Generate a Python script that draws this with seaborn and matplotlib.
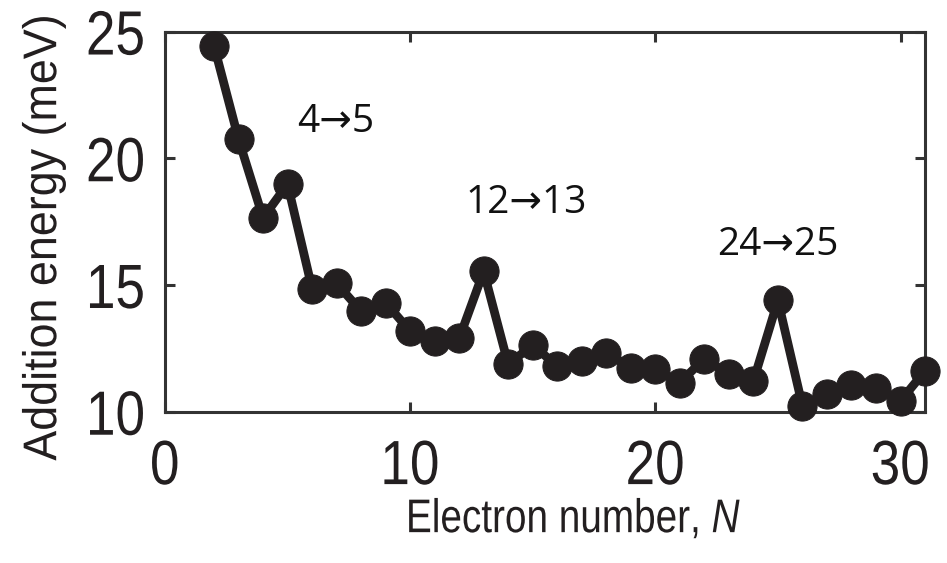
import matplotlib
matplotlib.use("Agg")
import matplotlib.pyplot as plt
import seaborn as sns
import pandas as pd
from matplotlib.patheffects import AbstractPathEffect
from matplotlib.transforms import Affine2D

electron_number = list(range(2, 32))
addition_energy = [24.44, 20.76, 17.65, 18.98, 14.86, 15.06, 13.97, 14.30, 13.18, 12.79,
                   12.89, 15.54, 11.87, 12.63, 11.80, 12.00, 12.33, 11.74, 11.67, 11.15,
                   12.09, 11.48, 11.21, 14.39, 10.23, 10.69, 11.06, 10.95, 10.43, 11.61]
annot_text = ["4\u21925", "12\u219213", "24\u219225"]
annot_x = [6.98, 14.74, 24.99]
annot_y = [21.45, 18.24, 16.59]
x_ticks = [0, 10, 20, 30]
y_ticks = [10, 15, 20, 25]


class Narrow(AbstractPathEffect):
    """Horizontally condense glyph outlines (emulates a narrow sans face)."""
    def __init__(self, sx=0.85, anchor="center"):
        super().__init__()
        self.sx = sx
        self.anchor = anchor

    def draw_path(self, renderer, gc, tpath, affine, rgbFace=None):
        v = tpath.vertices
        if len(v):
            xmin, xmax = v[:, 0].min(), v[:, 0].max()
        else:
            xmin = xmax = 0.0
        if self.anchor == "right":
            c = xmax
        elif self.anchor == "left":
            c = xmin
        else:
            c = 0.5 * (xmin + xmax)
        t = Affine2D().translate(-c, 0).scale(self.sx, 1).translate(c, 0)
        renderer.draw_path(gc, tpath, t + affine, rgbFace)


sns.set_style("ticks")
plt.rcParams['font.family'] = ['Liberation Sans', 'DejaVu Sans']
plt.rcParams['mathtext.fontset'] = 'custom'
plt.rcParams['mathtext.it'] = 'Liberation Sans:italic'
plt.rcParams['mathtext.rm'] = 'Liberation Sans'

df = pd.DataFrame({"N": electron_number, "E": addition_energy})
ink = "#231f20"

fig = plt.figure(figsize=(9.47, 5.63), dpi=100)
ax = fig.add_axes([0.1742, 0.2687, 0.8026, 0.6753])
sns.lineplot(data=df, x="N", y="E", ax=ax, color=ink, linewidth=6.3,
             marker="o", markersize=21, markeredgecolor=ink, markerfacecolor=ink,
             clip_on=False, zorder=3)

ax.set_xlim(0, 31)
ax.set_ylim(10, 25)
ax.set_xticks(x_ticks)
ax.set_yticks(y_ticks)
ax.tick_params(direction="in", length=7, width=2.2, color="#333333",
               top=True, right=True, labelsize=45, labelcolor=ink)
ax.tick_params(axis="x", pad=19)
ax.tick_params(axis="y", pad=14)
for s in ax.spines.values():
    s.set_linewidth(2.2)
    s.set_color("#333333")
    s.set_visible(True)

for lbl in ax.get_xticklabels():
    lbl.set_path_effects([Narrow(0.85, "center")])
for lbl in ax.get_yticklabels():
    lbl.set_path_effects([Narrow(0.85, "right")])

ax.set_xlabel("Electron number, $\\mathit{N}$", fontsize=34, color=ink)
ax.set_ylabel("Addition energy (meV)", fontsize=34, color=ink)
ax.xaxis.set_label_coords(0.538, -0.228)
ax.yaxis.set_label_coords(-0.13, 0.458)
ax.xaxis.label.set_path_effects([Narrow(0.82, "center")])
ax.yaxis.label.set_path_effects([Narrow(0.95, "center")])

for t, x, y in zip(annot_text, annot_x, annot_y):
    ax.text(x, y, t, ha="center", va="center", fontsize=28, color="#111111",
            family=['Open Sans', 'DejaVu Sans'])

fig.savefig("out.png", dpi=100)
